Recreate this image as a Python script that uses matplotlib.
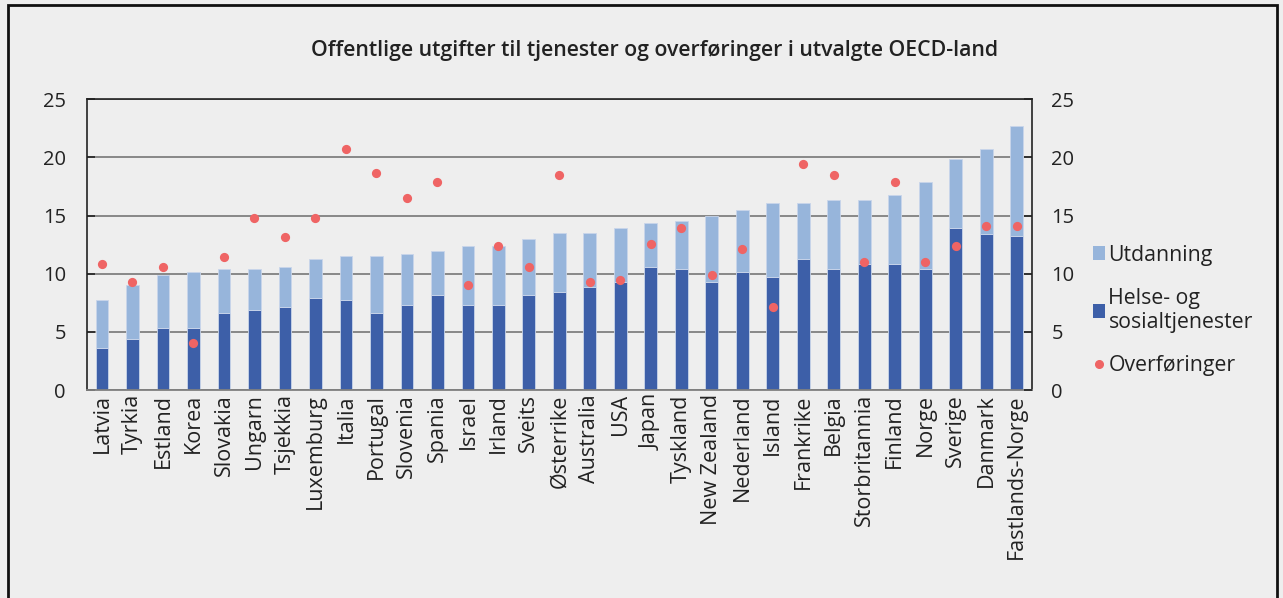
import numpy as np
import matplotlib
matplotlib.use("Agg")
import matplotlib.pyplot as plt
from matplotlib.patches import Patch, Rectangle
from matplotlib.lines import Line2D

plt.rcParams['font.family'] = ['Open Sans', 'DejaVu Sans']

land = ["Latvia", "Tyrkia", "Estland", "Korea", "Slovakia", "Ungarn", "Tsjekkia",
        "Luxemburg", "Italia", "Portugal", "Slovenia", "Spania", "Israel", "Irland",
        "Sveits", "Østerrike", "Australia", "USA", "Japan", "Tyskland", "New Zealand",
        "Nederland", "Island", "Frankrike", "Belgia", "Storbritannia", "Finland",
        "Norge", "Sverige", "Danmark", "Fastlands-Norge"]

# helse- og sosialtjenester (andel av BNP)
helse = [3.6, 4.4, 5.3, 5.3, 6.65, 6.85, 7.1, 7.95, 7.75, 6.65, 7.3, 8.2, 7.3, 7.3,
         8.2, 8.4, 8.85, 9.25, 10.6, 10.4, 9.3, 10.15, 9.7, 11.3, 10.4, 10.8, 10.8,
         10.4, 13.9, 13.45, 13.25]
# totalt (helse + utdanning)
totalt = [7.75, 9.05, 9.9, 10.15, 10.4, 10.4, 10.6, 11.3, 11.5, 11.5, 11.7, 11.95,
          12.35, 12.35, 13.0, 13.5, 13.5, 13.9, 14.35, 14.55, 15.0, 15.45, 16.1, 16.1,
          16.3, 16.3, 16.75, 17.85, 19.85, 20.7, 22.7]
overforinger = [10.85, 9.25, 10.6, 4.0, 11.45, 14.8, 13.2, 14.8, 20.7, 18.7, 16.55,
                17.85, 9.05, 12.35, 10.6, 18.5, 9.25, 9.5, 12.55, 13.9, 9.9, 12.15,
                7.1, 19.4, 18.5, 11.05, 17.85, 11.05, 12.35, 14.1, 14.1]

utdanning = np.array(totalt) - np.array(helse)

bg = "#eeeeee"
lys = "#97b5db"
mork = "#3d5fa8"
rod = "#ef6464"

fig = plt.figure(figsize=(12.83, 5.98), dpi=100, facecolor=bg)
ax = fig.add_axes([0.0676, 0.3478, 0.7368, 0.4862], facecolor=bg)

x = np.arange(len(land))
ax.bar(x, helse, width=0.42, color=mork, edgecolor="#c9d5ea", linewidth=0.6, zorder=2)
ax.bar(x, utdanning, width=0.42, bottom=helse, color=lys, edgecolor="#c9d5ea",
       linewidth=0.6, zorder=2)
ax.scatter(x, overforinger, s=44, color=rod, zorder=3, linewidths=0)

ax.set_xlim(-0.5, len(land) - 0.5)
ax.set_ylim(0, 25)
ax.set_yticks(range(0, 26, 5))
ax.yaxis.grid(True, color="#808080", linewidth=1.3, zorder=0)
ax.set_axisbelow(True)
ax.tick_params(axis="y", direction="in", length=6, width=1.2, labelsize=14.5,
               colors="#222222", pad=15)
ax.tick_params(axis="x", length=0, labelsize=15.5, colors="#222222", pad=3)
ax.set_xticks(x)
ax.set_xticklabels(land, rotation=90)
for s in ["left", "right", "top"]:
    ax.spines[s].set_color("#222222")
    ax.spines[s].set_linewidth(1.2)
ax.spines["bottom"].set_color("#808080")
ax.spines["bottom"].set_linewidth(1.3)

ax2 = ax.twinx()
ax2.set_ylim(0, 25)
ax2.set_yticks(range(0, 26, 5))
ax2.tick_params(axis="y", direction="in", length=6, width=1.2, labelsize=14.5,
                colors="#222222", pad=14)
for s in ax2.spines.values():
    s.set_visible(False)

fig.text(655 / 1283, 0.916, "Offentlige utgifter til tjenester og overføringer i utvalgte OECD-land",
         ha="center", va="center", fontsize=15.3, fontweight="semibold", color="#222222")

handles = [Patch(facecolor=lys, edgecolor="none"),
           Patch(facecolor=mork, edgecolor="none"),
           Line2D([], [], marker="o", linestyle="none", color=rod, markersize=5.5)]
labels = ["Utdanning", "Helse- og\nsosialtjenester", "Overføringer"]
leg = fig.legend(handles, labels, loc="upper left", bbox_to_anchor=(1084 / 1283, 1 - 236 / 598),
                 frameon=False, fontsize=15.3, handlelength=0.6, handleheight=0.6,
                 handletextpad=0.15, labelspacing=1.05, borderaxespad=0)
for t in leg.get_texts():
    t.set_color("#222222")

fig.patches.append(Rectangle((8 / 1283, -0.05), 1269 / 1283, 1.05 - 5 / 598,
                             transform=fig.transFigure, fill=False,
                             edgecolor="#111111", linewidth=2))

fig.savefig("out.png", dpi=100, facecolor=bg)
